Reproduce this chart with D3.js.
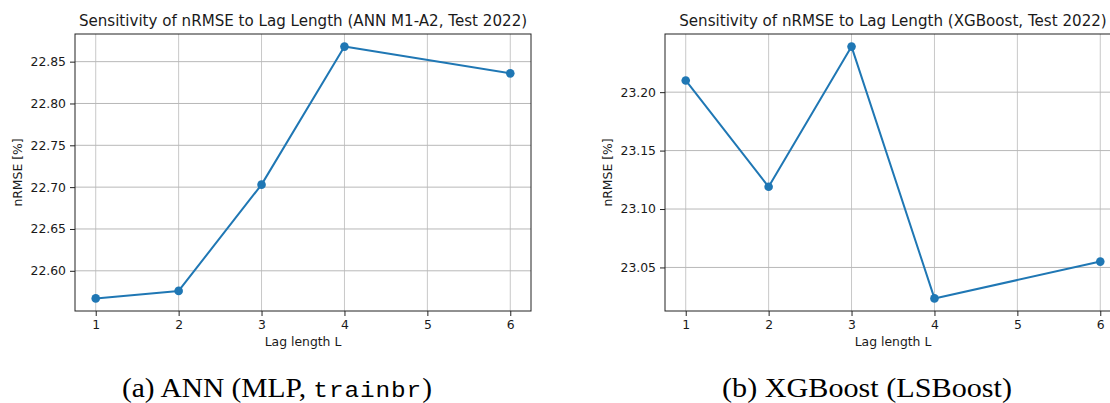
<!DOCTYPE html>
<html>
<head>
<meta charset="utf-8">
<script src="https://cdn.jsdelivr.net/npm/d3@7/dist/d3.min.js"></script>
<style>
  html, body { margin: 0; padding: 0; background: #fff; }
  svg { display: block; }
  text { font-family: "DejaVu Sans", sans-serif; fill: #1a1a1a; }
  .caption { font-family: "Liberation Serif", "Times New Roman", serif; fill: #000; }
  .mono { font-family: "Liberation Mono", "DejaVu Sans Mono", monospace; }
</style>
</head>
<body>
<svg id="fig" width="1110" height="403"></svg>
<script>
// Lag lengths evaluated (no run at L = 5)
const lags = [1, 2, 3, 4, 6];

// Test-2022 nRMSE [%] for each lag length
const annNrmse = [22.567, 22.576, 22.703, 22.868, 22.836];
const xgbNrmse = [23.210, 23.119, 23.239, 23.0235, 23.055];

// Axis ticks
const xTicks = [1, 2, 3, 4, 5, 6];
const annYTicks = [22.60, 22.65, 22.70, 22.75, 22.80, 22.85];
const xgbYTicks = [23.05, 23.10, 23.15, 23.20];

// Texts
const titles = [
  "Sensitivity of nRMSE to Lag Length (ANN M1-A2, Test 2022)",
  "Sensitivity of nRMSE to Lag Length (XGBoost, Test 2022)"
];
const xLabel = "Lag length L";
const yLabel = "nRMSE [%]";

const svg = d3.select("#fig");
const blue = "#1f77b4";
const tickFont = 12.4;

function panel(cfg) {
  const { left, right, top, bottom, values, yTicks, title, caption } = cfg;

  // 5% padding on both axes
  const xr = d3.extent(lags), xPad = (xr[1] - xr[0]) * 0.05;
  const yr = d3.extent(values), yPad = (yr[1] - yr[0]) * 0.05;

  const x = d3.scaleLinear().domain([xr[0] - xPad, xr[1] + xPad]).range([left, right]);
  const y = d3.scaleLinear().domain([yr[0] - yPad, yr[1] + yPad]).range([bottom, top]);

  const g = svg.append("g");

  // grid
  g.append("g").selectAll("line").data(xTicks).join("line")
    .attr("x1", d => x(d)).attr("x2", d => x(d))
    .attr("y1", top).attr("y2", bottom)
    .attr("stroke", "#c8c8c8").attr("stroke-width", 1);
  g.append("g").selectAll("line").data(yTicks).join("line")
    .attr("x1", left).attr("x2", right)
    .attr("y1", d => y(d)).attr("y2", d => y(d))
    .attr("stroke", "#b8b8b8").attr("stroke-width", 1);

  // axes
  const xAxis = d3.axisBottom(x).tickValues(xTicks).tickFormat(d3.format("d"))
    .tickSize(5).tickPadding(4);
  const yAxis = d3.axisLeft(y).tickValues(yTicks).tickFormat(d3.format(".2f"))
    .tickSize(5).tickPadding(4);

  const gx = g.append("g").attr("transform", `translate(0,${bottom})`).call(xAxis);
  const gy = g.append("g").attr("transform", `translate(${left},0)`).call(yAxis);
  [gx, gy].forEach(a => {
    a.select(".domain").remove();
    a.selectAll(".tick line").attr("stroke", "#222").attr("stroke-width", 1);
    a.selectAll(".tick text").attr("font-size", tickFont).attr("fill", "#1a1a1a")
      .attr("font-family", "DejaVu Sans, sans-serif");
  });

  // frame
  g.append("rect")
    .attr("x", left).attr("y", top)
    .attr("width", right - left).attr("height", bottom - top)
    .attr("fill", "none").attr("stroke", "#222").attr("stroke-width", 1);

  // series
  const pts = lags.map((l, i) => [l, values[i]]);
  g.append("path").datum(pts)
    .attr("fill", "none").attr("stroke", blue).attr("stroke-width", 2)
    .attr("stroke-linejoin", "round")
    .attr("d", d3.line().x(d => x(d[0])).y(d => y(d[1])));
  g.append("g").selectAll("circle").data(pts).join("circle")
    .attr("cx", d => x(d[0])).attr("cy", d => y(d[1]))
    .attr("r", 4.3).attr("fill", blue);

  // title and axis labels
  g.append("text")
    .attr("x", (left + right) / 2).attr("y", 26)
    .attr("text-anchor", "middle").attr("font-size", 15.1)
    .text(title);
  g.append("text")
    .attr("x", (left + right) / 2).attr("y", 346)
    .attr("text-anchor", "middle").attr("font-size", tickFont)
    .text(xLabel);
  g.append("text")
    .attr("transform", `translate(${left - 57},${(top + bottom) / 2}) rotate(-90)`)
    .attr("text-anchor", "middle").attr("dy", "0.35em").attr("font-size", tickFont)
    .text(yLabel);

  // sub-figure caption
  const cap = svg.append("text").attr("class", "caption")
    .attr("x", caption.x).attr("y", 396.5)
    .attr("text-anchor", "middle").attr("font-size", 26.3)
    .attr("textLength", caption.w).attr("lengthAdjust", "spacingAndGlyphs");
  caption.parts.forEach(p => {
    const t = cap.append("tspan").attr("class", p.mono ? "caption mono" : "caption").text(p.t);
    if (p.mono) t.attr("font-size", 21.8).attr("letter-spacing", 0.8);
  });
}

panel({
  left: 75, right: 531, top: 34, bottom: 311,
  values: annNrmse, yTicks: annYTicks, title: titles[0],
  caption: { x: 277, w: 310, parts: [{ t: "(a) ANN (MLP, " }, { t: "trainbr", mono: true }, { t: ")" }] }
});
panel({
  left: 665, right: 1121, top: 34, bottom: 311,
  values: xgbNrmse, yTicks: xgbYTicks, title: titles[1],
  caption: { x: 867, w: 290, parts: [{ t: "(b) XGBoost (LSBoost)" }] }
});
</script>
</body>
</html>
